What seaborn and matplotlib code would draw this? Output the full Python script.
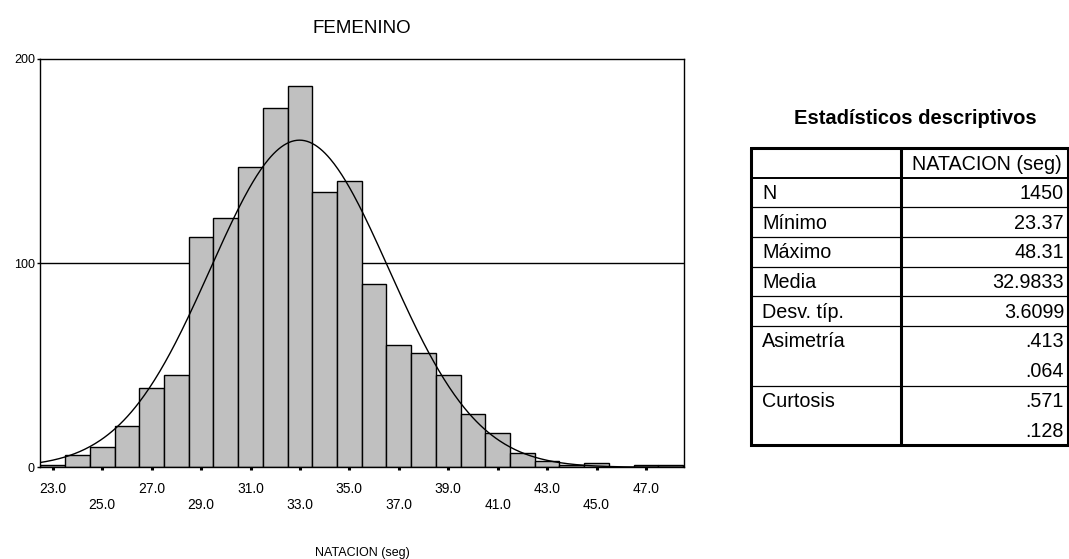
import numpy as np
import pandas as pd
import matplotlib
matplotlib.use("Agg")
import matplotlib.pyplot as plt
import seaborn as sns

# ---------------- data ----------------
bin_centers = [23, 24, 25, 26, 27, 28, 29, 30, 31, 32, 33, 34, 35, 36,
               37, 38, 39, 40, 41, 42, 43, 44, 45, 46, 47, 48]
counts = [1, 6, 10, 20, 39, 45, 113, 122, 147, 176, 187, 135, 140, 90,
          60, 56, 45, 26, 17, 7, 3, 1, 2, 0, 1, 1]
N_TOTAL = 1450
MEAN = 32.9833
SD = 3.6099

major_ticks = [23, 27, 31, 35, 39, 43, 47]
minor_ticks = [25, 29, 33, 37, 41, 45]
y_ticks = [0, 100, 200]

table_title = "Estadísticos descriptivos"
table_header = "NATACION (seg)"
stat_labels = ["N", "Mínimo", "Máximo", "Media", "Desv. típ.", "Asimetría", "", "Curtosis", ""]
stat_values = ["1450", "23.37", "48.31", "32.9833", "3.6099", ".413", ".064", ".571", ".128"]

# ---------------- style ----------------
sns.set_theme(style="white")
plt.rcParams['font.family'] = ['Liberation Sans', 'DejaVu Sans']

W, H = 1069, 559
fig = plt.figure(figsize=(W / 100, H / 100), dpi=100)
fig.patch.set_facecolor("white")

L, R, T, B = 39.7, 684.3, 59.0, 467.3
ax = fig.add_axes([L / W, 1 - B / H, (R - L) / W, (B - T) / H])

df = pd.DataFrame({"NATACION (seg)": bin_centers, "count": counts})

ax.axhline(100, color="black", lw=1.0, zorder=0)
sns.histplot(data=df, x="NATACION (seg)", weights="count", binwidth=1.0,
             binrange=(min(bin_centers) - 0.5, max(bin_centers) + 0.5),
             color="#c0c0c0", edgecolor="black", linewidth=1.0, alpha=1,
             ax=ax, zorder=2)

x0, x1 = 22.47, 48.55
xs = np.linspace(x0, x1, 500)
ys = N_TOTAL * 1.0 * np.exp(-0.5 * ((xs - MEAN) / SD) ** 2) / (SD * np.sqrt(2 * np.pi))
sns.lineplot(x=xs, y=ys, color="black", lw=1.0, ax=ax, zorder=3)

ax.set_xlim(x0, x1)
ax.set_ylim(0, 200)
for s in ax.spines.values():
    s.set_color("black")
    s.set_linewidth(1.0)
    s.set_visible(True)

ax.set_xticks(major_ticks)
ax.set_xticklabels([f"{t:.1f}" for t in major_ticks])
ax.set_xticks(minor_ticks, minor=True)
ax.set_xticklabels([f"{t:.1f}" for t in minor_ticks], minor=True)
ax.tick_params(axis="x", which="both", bottom=True, direction="out",
               length=2.5, width=2.2, color="black", labelsize=10, labelcolor="black")
ax.tick_params(axis="x", which="major", pad=7.8)
ax.tick_params(axis="x", which="minor", pad=19.3)

ax.set_yticks(y_ticks)
ax.set_yticklabels([str(t) for t in y_ticks])
ax.tick_params(axis="y", which="major", left=True, direction="out",
               length=2.5, width=1.0, color="black", labelsize=9, pad=1,
               labelcolor="black")

ax.set_ylabel("")
ax.set_xlabel("NATACION (seg)", fontsize=9, color="black", va="center")
ax.xaxis.set_label_coords(0.5, -(553 - B) / (B - T))
ax.set_title("FEMENINO", fontsize=13.5, color="black", pad=19)

# ---------------- table ----------------
TL, TR, TT, TB = 751.0, 1068.0, 148.0, 445.0
tab = fig.add_axes([TL / W, 1 - TB / H, (TR - TL) / W, (TB - TT) / H])
tab.set_xlim(TL, TR)
tab.set_ylim(TB, TT)
tab.axis("off")

fig.text(915 / W, 1 - 118 / H, table_title, ha="center", va="center",
         fontsize=14.5, fontweight="bold", color="black")

header_h = 29.5
row_h = (TB - TT - header_h) / len(stat_labels)
DIV = 901.0
fs = 14.2

tab.plot([TL, TR, TR, TL, TL], [TT, TT, TB, TB, TT], color="black", lw=2.2,
         clip_on=False, solid_joinstyle="miter")
tab.plot([DIV, DIV], [TT, TB], color="black", lw=2.2, clip_on=False)
tab.plot([TL, TR], [TT + header_h, TT + header_h], color="black", lw=1.4, clip_on=False)

tab.text((DIV + 1068) / 2 + 2, TT + header_h / 2 + 2, table_header, ha="center", va="center",
         fontsize=fs, color="black")

y = TT + header_h
for i, (lab, val) in enumerate(zip(stat_labels, stat_values)):
    cy = y + row_h / 2 + 1
    if lab:
        tab.text(TL + 11, cy, lab, ha="left", va="center", fontsize=fs, color="black")
    tab.text(1064, cy, val, ha="right", va="center", fontsize=fs, color="black")
    y += row_h
    nxt = stat_labels[i + 1] if i + 1 < len(stat_labels) else None
    if nxt is not None and nxt != "":
        tab.plot([TL, TR], [y, y], color="black", lw=0.9, clip_on=False)

fig.savefig("out.png", dpi=100, facecolor="white")
